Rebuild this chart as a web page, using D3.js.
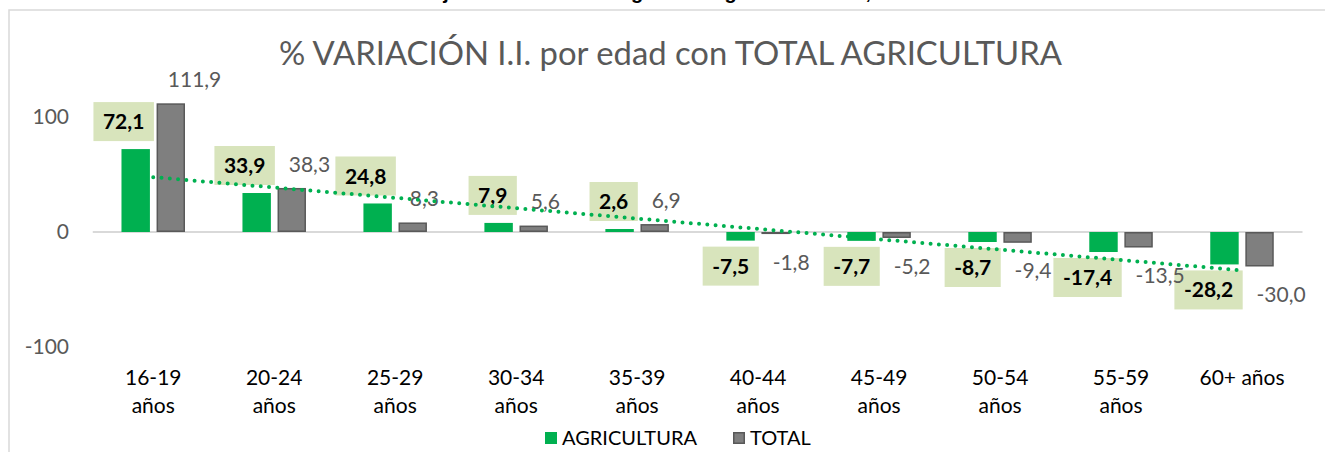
<!DOCTYPE html>
<html>
<head>
<meta charset="utf-8">
<script src="https://cdn.jsdelivr.net/npm/d3@7"></script>
<style>
  body { margin: 0; background: #fff; }
  svg { display: block; font-family: Lato, "Open Sans", sans-serif; }
</style>
</head>
<body>
<svg id="my_dataviz"></svg>
<script>
// Data
const categories = ["16-19 años", "20-24 años", "25-29 años", "30-34 años", "35-39 años",
                    "40-44 años", "45-49 años", "50-54 años", "55-59 años", "60+ años"];
const tickLabels = [["16-19", "años"], ["20-24", "años"], ["25-29", "años"], ["30-34", "años"], ["35-39", "años"],
                    ["40-44", "años"], ["45-49", "años"], ["50-54", "años"], ["55-59", "años"], ["60+ años"]];
const agricultura = [72.1, 33.9, 24.8, 7.9, 2.6, -7.5, -7.7, -8.7, -17.4, -28.2];
const total = [111.9, 38.3, 8.3, 5.6, 6.9, -1.8, -5.2, -9.4, -13.5, -30.0];
const yTicks = [-100, 0, 100];
const seriesNames = ["AGRICULTURA", "TOTAL"];
const chartTitle = "% VARIACIÓN I.I. por edad con TOTAL AGRICULTURA";
const caption = "Gráfico 4. Variación interanual de trabajadores del sector agrario. Región de Murcia, 2023";

// The svg
var width = 1325;
var height = 452;

var svg = d3.select("#my_dataviz")
            .attr("width", width)
            .attr("height", height);

const locale = d3.formatLocale({decimal: ",", thousands: ".", grouping: [3], currency: ["", "€"], minus: "-"});
const fmt = locale.format(".1f");
const fmtTick = locale.format("d");

const green = "#00B050", grey = "#7F7F7F", greyDark = "#595959", textGrey = "#595959";

// Scales
const x = d3.scaleBand().domain(categories).range([92.75, 1302.5]).padding(0);
const y = d3.scaleLinear().domain([-100, 100]).range([347, 117]);

const bw = x.bandwidth();
const barW = bw * 0.235;
const gap = bw * 0.055;
const cx = d => x(d) + bw / 2;

// caption of the page, cut by the top edge
svg.append("text")
   .attr("x", 72).attr("y", -1)
   .style("font-family", "'Liberation Sans', Arial, sans-serif")
   .style("font-weight", "bold").style("font-size", "20px")
   .attr("fill", "#000")
   .text(caption);

// chart frame
svg.append("rect")
   .attr("x", 9).attr("y", 10)
   .attr("width", 1400).attr("height", 500)
   .attr("fill", "#fff")
   .attr("stroke", "#d9d9d9").attr("stroke-width", 1.5);

// Title
svg.append("text")
   .attr("x", 670.5).attr("y", 65)
   .attr("text-anchor", "middle")
   .attr("fill", textGrey)
   .style("font-size", "32.8px")
   .text(chartTitle);

// Y axis labels
const yAxis = svg.append("g")
   .attr("transform", "translate(69,0)")
   .call(d3.axisLeft(y).tickValues(yTicks).tickSize(0).tickPadding(0).tickFormat(fmtTick));
yAxis.select(".domain").remove();
yAxis.selectAll("text")
   .attr("fill", textGrey)
   .style("font-family", "Lato, sans-serif")
   .style("font-size", "21px");

// zero line
svg.append("line")
   .attr("x1", x.range()[0]).attr("x2", x.range()[1])
   .attr("y1", y(0)).attr("y2", y(0))
   .attr("stroke", "#d9d9d9").attr("stroke-width", 2);

const rows = categories.map((c, i) => ({cat: c, agri: agricultura[i], tot: total[i], lines: tickLabels[i]}));

// Bars
svg.append("g").selectAll(".bar-agri")
   .data(rows)
   .join("rect")
   .attr("class", "bar-agri")
   .attr("x", d => cx(d.cat) - gap / 2 - barW)
   .attr("width", barW)
   .attr("y", d => y(Math.max(0, d.agri)))
   .attr("height", d => Math.abs(y(d.agri) - y(0)))
   .attr("fill", green);

svg.append("g").selectAll(".bar-tot")
   .data(rows)
   .join("rect")
   .attr("class", "bar-tot")
   .attr("x", d => cx(d.cat) + gap / 2 + 0.75)
   .attr("width", barW - 1.5)
   .attr("y", d => y(Math.max(0, d.tot)) + 0.75)
   .attr("height", d => Math.max(0, Math.abs(y(d.tot) - y(0)) - 1.5))
   .attr("fill", grey)
   .attr("stroke", greyDark).attr("stroke-width", 1.5);

// Category labels
const xl = svg.append("g").selectAll(".xlabel")
   .data(rows)
   .join("text")
   .attr("class", "xlabel")
   .attr("text-anchor", "middle")
   .attr("fill", "#000")
   .style("font-size", "21px");
xl.selectAll("tspan")
   .data(d => d.lines.map(l => ({l, c: cx(d.cat)})))
   .join("tspan")
   .attr("x", d => d.c)
   .attr("y", (d, i) => 385 + i * 28)
   .text(d => d.l);

// AGRICULTURA labels in boxes
const agriLab = svg.append("g").selectAll(".lab-agri")
   .data(rows)
   .join("g")
   .attr("class", "lab-agri");
agriLab.append("rect").attr("fill", "#D8E4BC");
agriLab.append("text")
   .attr("text-anchor", "middle")
   .attr("dy", "0.36em")
   .attr("fill", "#000")
   .style("font-weight", "bold")
   .style("font-size", "21px")
   .text(d => fmt(d.agri));
agriLab.each(function(d) {
    const g = d3.select(this);
    const tw = g.select("text").node().getComputedTextLength();
    const bwid = tw + 19, bh = 39;
    const right = cx(d.cat) - gap / 2 + 4;
    const top = d.agri >= 0 ? y(d.agri) - 8 - bh : y(d.agri) + 6;
    g.select("rect").attr("x", right - bwid).attr("y", top).attr("width", bwid).attr("height", bh);
    g.select("text").attr("x", right - bwid / 2).attr("y", top + bh / 2);
});

// TOTAL labels
svg.append("g").selectAll(".lab-tot")
   .data(rows)
   .join("text")
   .attr("class", "lab-tot")
   .attr("x", d => cx(d.cat) + gap / 2 + barW / 2 - 3)
   .attr("y", d => d.tot >= 0 ? y(d.tot) - 24 : y(d.tot) + 28)
   .attr("dy", "0.36em")
   .attr("fill", textGrey)
   .style("font-size", "21px")
   .text(d => fmt(d.tot));

// Linear trendline for AGRICULTURA
const xs = agricultura.map((v, i) => i + 1);
const mx = d3.mean(xs), my = d3.mean(agricultura);
const slope = d3.sum(xs, (v, i) => (v - mx) * (agricultura[i] - my)) / d3.sum(xs, v => (v - mx) * (v - mx));
const icpt = my - slope * mx;
const trend = [0, categories.length - 1].map(i => ({c: categories[i], v: icpt + slope * (i + 1)}));
svg.append("path")
   .datum(trend)
   .attr("fill", "none")
   .attr("stroke", green)
   .attr("stroke-width", 4)
   .attr("stroke-linecap", "round")
   .attr("stroke-dasharray", "0 8.3")
   .attr("d", d3.line().x(d => cx(d.c)).y(d => y(d.v)));

// Legend
const legend = svg.append("g").selectAll(".legend")
   .data(seriesNames)
   .join("g")
   .attr("class", "legend")
   .attr("transform", (d, i) => `translate(${i === 0 ? 545 : 733},432)`);
legend.append("rect")
   .attr("x", (d, i) => i === 0 ? 0 : 0.75).attr("y", (d, i) => i === 0 ? 0 : 0.75)
   .attr("width", (d, i) => i === 0 ? 12 : 10.5).attr("height", (d, i) => i === 0 ? 12 : 10.5)
   .attr("fill", (d, i) => i === 0 ? green : grey)
   .attr("stroke", (d, i) => i === 0 ? "none" : greyDark)
   .attr("stroke-width", 1.5);
legend.append("text")
   .attr("x", 17).attr("y", 6).attr("dy", "0.36em")
   .attr("fill", "#000")
   .style("font-size", "20px")
   .text(d => d);
</script>
</body>
</html>
